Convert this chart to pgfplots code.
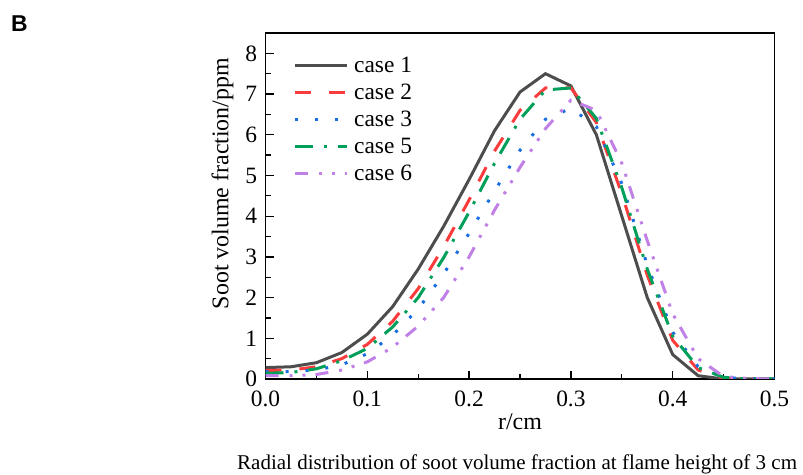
\documentclass[border=0pt]{standalone}
\usepackage{pgfplots}
\pgfplotsset{compat=1.18}
\usepackage{pgfplotstable}
\usepackage{fontspec}
\setmainfont{Liberation Serif}
\setsansfont{Liberation Sans}
\definecolor{c1}{RGB}{77,77,77}
\definecolor{c2}{RGB}{250,60,60}
\definecolor{c3}{RGB}{25,110,225}
\definecolor{c5}{RGB}{0,160,90}
\definecolor{c6}{RGB}{192,128,230}
\pgfplotstableread{
r c1 c2 c3 c5 c6
0.000 0.28 0.21 0.18 0.14 0.08
0.025 0.30 0.22 0.18 0.16 0.08
0.050 0.40 0.30 0.22 0.25 0.11
0.075 0.65 0.50 0.35 0.45 0.22
0.100 1.10 0.85 0.62 0.75 0.42
0.125 1.78 1.42 1.08 1.28 0.78
0.150 2.70 2.22 1.72 2.00 1.30
0.175 3.75 3.25 2.58 2.98 2.00
0.200 4.90 4.40 3.58 4.10 3.00
0.225 6.10 5.60 4.62 5.30 4.15
0.250 7.05 6.60 5.62 6.38 5.20
0.275 7.50 7.15 6.38 7.10 6.15
0.300 7.20 7.15 6.65 7.15 6.85
0.325 6.00 6.30 6.20 6.40 6.60
0.350 4.00 4.55 4.80 4.70 5.30
0.375 2.00 2.55 2.80 2.70 3.40
0.400 0.60 0.95 1.15 1.05 1.60
0.425 0.08 0.22 0.30 0.28 0.50
0.450 0.00 0.02 0.04 0.04 0.06
0.475 0.00 0.00 0.00 0.00 0.01
0.500 0.00 0.00 0.00 0.00 0.00
}\datatable
\begin{document}
\begin{tikzpicture}[x=1bp,y=1bp]
\useasboundingbox (0,0) rectangle (803,475);
\begin{axis}[
  at={(265.5bp,96bp)}, anchor=south west,
  width=509bp, height=346bp, scale only axis,
  xmin=0, xmax=0.5, ymin=0, ymax=8.5,
  xtick={0,0.1,0.2,0.3,0.4,0.5},
  ytick={0,1,2,3,4,5,6,7,8},
  minor x tick num=1, minor y tick num=1,
  tick align=inside, xtick pos=bottom, ytick pos=left,
  major tick length=8bp, minor tick length=5bp,
  axis line style={line width=1.5bp},
  every tick/.style={line width=1.3bp, black},
  x tick label style={/pgf/number format/.cd, fixed, fixed zerofill, precision=1, assume math mode=true, /tikz/.cd, yshift=-8bp},
  y tick label style={/pgf/number format/.cd, assume math mode=true, /tikz/.cd, xshift=-5bp},
  ticklabel style={font=\fontsize{23.5}{27}\selectfont},
  label style={font=\fontsize{24}{28}\selectfont},
  xlabel={r/cm}, ylabel={Soot volume fraction/ppm},
  xlabel style={yshift=0bp},
  ylabel style={at={(ticklabel cs:0.565)}, anchor=south, yshift=5bp},
  legend style={at={(0.055,0.935)}, anchor=north west, draw=none, fill=none,
    font=\fontsize{23.5}{27}\selectfont, row sep=7bp, inner sep=0pt,
    nodes={inner sep=1.5bp},
    /tikz/every odd column/.append style={column sep=4bp}},
  legend cell align=left,
  legend image code/.code={\draw[#1] (0bp,0bp) -- (52bp,0bp);},
]
\addplot[c1, line width=3bp] table[x=r,y=c1]{\datatable};
\addlegendentry{case 1}
\addplot[c2, line width=3bp, dash pattern=on 16bp off 18bp] table[x=r,y=c2]{\datatable};
\addlegendentry{case 2}
\addplot[c3, line width=3bp, dash pattern=on 3bp off 17bp] table[x=r,y=c3]{\datatable};
\addlegendentry{case 3}
\addplot[c5, line width=3bp, dash pattern=on 18bp off 11bp on 3bp off 11bp] table[x=r,y=c5]{\datatable};
\addlegendentry{case 5}
\addplot[c6, line width=3bp, dash pattern=on 13bp off 11bp on 3bp off 10bp on 3bp off 10bp] table[x=r,y=c6]{\datatable};
\addlegendentry{case 6}
\end{axis}
\node[anchor=north west, inner sep=0pt, font=\sffamily\bfseries\fontsize{23}{26}\selectfont] at (11,459) {B};
\node[anchor=base west, inner sep=0pt, font=\fontsize{21.1}{24}\selectfont] at (237,5) {Radial distribution of soot volume fraction at flame height of 3 cm};
\end{tikzpicture}
\end{document}
